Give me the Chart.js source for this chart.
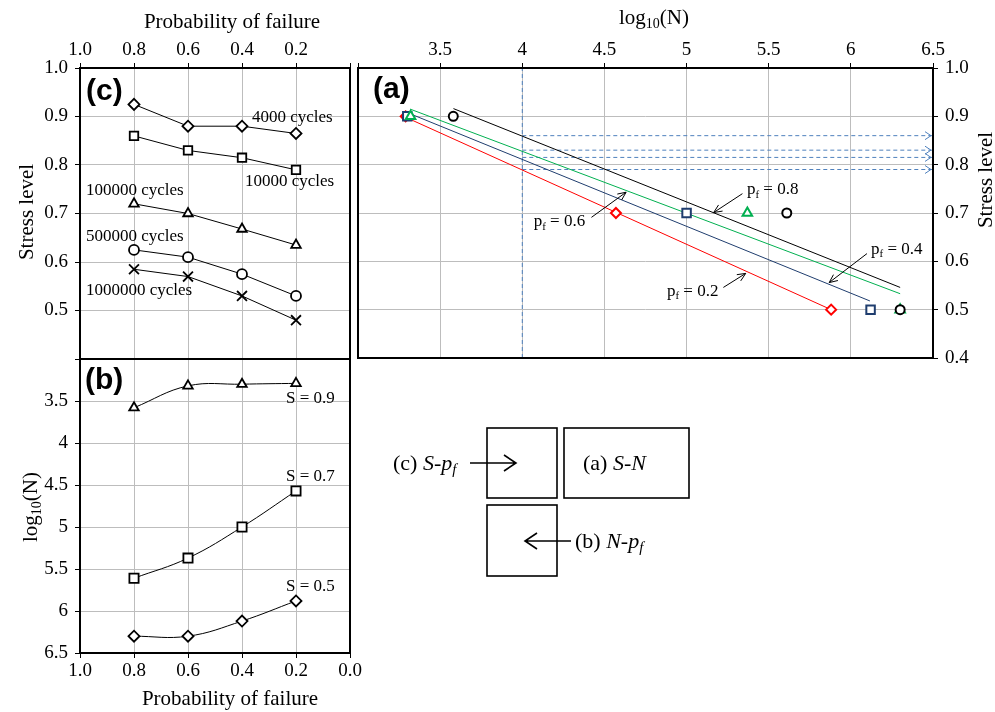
<!DOCTYPE html>
<html>
<head>
<meta charset="utf-8">
<title>S-N-pf diagrams</title>
<script src="https://cdn.jsdelivr.net/npm/chart.js@4.4.0/dist/chart.umd.min.js"></script>
<style>
  html, body { margin: 0; padding: 0; background: #fff; }
  #wrap { position: relative; width: 995px; height: 712px; overflow: hidden; }
  #wrap canvas, #wrap svg { position: absolute; left: 0; top: 0; }
</style>
</head>
<body>
<div id="wrap">
  <canvas id="chartC" width="995" height="712"></canvas>
  <canvas id="chartB" width="995" height="712"></canvas>
  <canvas id="chartA" width="995" height="712"></canvas>
  <!-- key showing how the three panels relate -->
  <svg id="key" width="995" height="712" font-family="'Liberation Serif', 'Times New Roman', serif" font-size="22">
    <g fill="none" stroke="#000" stroke-width="1.6">
      <rect x="487" y="428" width="70" height="70"/>
      <rect x="564" y="428" width="125" height="70"/>
      <rect x="487" y="505" width="70" height="71"/>
      <path d="M470 463 H516 M504 455 L516 463 L504 471"/>
      <path d="M571 541 H525 M537 533 L525 541 L537 549"/>
    </g>
    <text x="393" y="470">(c) <tspan font-style="italic">S</tspan>-<tspan font-style="italic">p</tspan><tspan font-style="italic" font-size="15" dy="4">f</tspan></text>
    <text x="583" y="470">(a) <tspan font-style="italic">S</tspan>-<tspan font-style="italic">N</tspan></text>
    <text x="575" y="548">(b) <tspan font-style="italic">N</tspan>-<tspan font-style="italic">p</tspan><tspan font-style="italic" font-size="15" dy="4">f</tspan></text>
  </svg>
</div>
<script>
// probability of failure levels used in (b) and (c)
const pfLevels = [0.8, 0.6, 0.4, 0.2];

// (c) stress level reached at a fixed number of cycles
const cycleNames = ['4000 cycles', '10000 cycles', '100000 cycles', '500000 cycles', '1000000 cycles'];
const stress4k = [0.925, 0.88, 0.88, 0.865];
const stress10k = [0.86, 0.83, 0.815, 0.79];
const stress100k = [0.72, 0.70, 0.668, 0.635];
const stress500k = [0.625, 0.61, 0.575, 0.53];
const stress1m = [0.585, 0.57, 0.53, 0.48];

// (b) log10(N) at a fixed stress level
const stressNames = ['S = 0.9', 'S = 0.7', 'S = 0.5'];
const logN09 = [3.58, 3.32, 3.30, 3.29];
const logN07 = [5.61, 5.37, 5.00, 4.57];
const logN05 = [6.30, 6.30, 6.12, 5.88];

// (a) the same lives plotted against the tested stress levels
const stressTested = [0.9, 0.7, 0.5];
const pfNames = ['p_{f} = 0.8', 'p_{f} = 0.6', 'p_{f} = 0.4', 'p_{f} = 0.2'];

// fitted S-N lines per pf, [log10(N), S] at both ends
const fit08 = [[3.581, 0.916], [6.30, 0.546]];
const fit06 = [[3.317, 0.915], [6.30, 0.533]];
const fit04 = [[3.305, 0.907], [6.116, 0.518]];
const fit02 = [[3.31, 0.895], [5.88, 0.5]];

// read-off at N = 10^4 (the 10000 cycles curve of (c))
const readLogN = 4;

// ticks and their labels
const pfTicks = [1.0, 0.8, 0.6, 0.4, 0.2, 0.0];
const pfTopLabels = ['1.0', '0.8', '0.6', '0.4', '0.2', ''];
const pfBottomLabels = ['1.0', '0.8', '0.6', '0.4', '0.2', '0.0'];
const stressTicks = [1.0, 0.9, 0.8, 0.7, 0.6, 0.5, 0.4];
const stressLeftLabels = ['1.0', '0.9', '0.8', '0.7', '0.6', '0.5', ''];
const stressRightLabels = ['1.0', '0.9', '0.8', '0.7', '0.6', '0.5', '0.4'];
const logNTicks = [3, 3.5, 4, 4.5, 5, 5.5, 6, 6.5];
const logNLabels = ['', '3.5', '4', '4.5', '5', '5.5', '6', '6.5'];

const serif = "'Liberation Serif', 'Times New Roman', serif";
const sans = "'Liberation Sans', Arial, sans-serif";
const gridGray = '#bdbdbd';
const dashBlue = '#4f81bd';

// split 'log_{10}(N)' into plain / subscript pieces
function pieces(str){
  const out = [];
  const re = /_\{([^}]*)\}/g;
  let last = 0, m;
  while ((m = re.exec(str))){
    if (m.index > last) out.push({ t: str.slice(last, m.index) });
    out.push({ t: m[1], sub: true });
    last = re.lastIndex;
  }
  if (last < str.length) out.push({ t: str.slice(last) });
  return out;
}

function drawText(ctx, str, x, y, o){
  const size = o.size || 17;
  const family = o.family || serif;
  const weight = o.bold ? 'bold ' : '';
  const parts = pieces(str);
  const fontOf = p => `${weight}${p.sub ? Math.round(size * 0.65) : size}px ${family}`;
  ctx.save();
  ctx.translate(x, y);
  if (o.rot) ctx.rotate(o.rot);
  let total = 0;
  parts.forEach(p => { ctx.font = fontOf(p); total += ctx.measureText(p.t).width; });
  let cx = o.align === 'center' ? -total / 2 : (o.align === 'right' ? -total : 0);
  ctx.fillStyle = '#000';
  ctx.textAlign = 'left';
  ctx.textBaseline = 'middle';
  parts.forEach(p => {
    ctx.font = fontOf(p);
    ctx.fillText(p.t, cx, p.sub ? size * 0.3 : 0);
    cx += ctx.measureText(p.t).width;
  });
  ctx.restore();
}

function arrowHead(ctx, x0, y0, x1, y1, len, spread){
  const a = Math.atan2(y1 - y0, x1 - x0);
  ctx.beginPath();
  ctx.moveTo(x1 - len * Math.cos(a - spread), y1 - len * Math.sin(a - spread));
  ctx.lineTo(x1, y1);
  ctx.lineTo(x1 - len * Math.cos(a + spread), y1 - len * Math.sin(a + spread));
  ctx.stroke();
}

// frame, labels, arrows and axis titles for one panel
function notes(items){
  return {
    id: 'notes',
    afterDatasetsDraw(chart){
      const ctx = chart.ctx;
      const { left, top, right, bottom } = chart.chartArea;
      const sx = chart.scales.x, sy = chart.scales.y;
      const px = v => sx.getPixelForValue(v), py = v => sy.getPixelForValue(v);

      // dashed read-off lines end in an open arrowhead
      chart.data.datasets.forEach((ds, i) => {
        if (!ds.arrowEnd) return;
        const pts = chart.getDatasetMeta(i).data;
        const p = pts[pts.length - 1];
        ctx.save();
        ctx.strokeStyle = ds.borderColor;
        ctx.lineWidth = 1;
        ctx.beginPath();
        ctx.moveTo(p.x - 8, p.y - 4);
        ctx.lineTo(p.x - 2, p.y);
        ctx.lineTo(p.x - 8, p.y + 4);
        ctx.stroke();
        ctx.restore();
      });

      ctx.save();
      ctx.strokeStyle = '#000';
      ctx.lineWidth = 2;
      ctx.strokeRect(left, top, right - left, bottom - top);
      ctx.restore();

      items.forEach(it => {
        if (it.kind === 'text'){
          drawText(ctx, it.text, px(it.at[0]), py(it.at[1]), it);
        } else if (it.kind === 'title'){
          drawText(ctx, it.text, it.px[0], it.px[1], it);
        } else if (it.kind === 'arrow'){
          const x0 = px(it.from[0]), y0 = py(it.from[1]);
          const x1 = px(it.to[0]), y1 = py(it.to[1]);
          ctx.save();
          ctx.strokeStyle = '#000';
          ctx.lineWidth = 1;
          ctx.beginPath();
          ctx.moveTo(x0, y0);
          ctx.lineTo(x1, y1);
          ctx.stroke();
          arrowHead(ctx, x0, y0, x1, y1, 9, 0.42);
          ctx.restore();
        }
      });
    }
  };
}

function axis(o){
  return {
    type: 'linear',
    position: o.position,
    min: o.min,
    max: o.max,
    reverse: !!o.reverse,
    afterBuildTicks: a => { a.ticks = o.values.map(v => ({ value: v })); },
    afterFit: a => { if (a.isHorizontal()) a.height = o.size; else a.width = o.size; },
    border: { display: false },
    grid: { color: gridGray, lineWidth: 1, tickColor: '#000', tickLength: 5 },
    ticks: {
      font: { family: serif, size: 19 },
      color: '#000',
      padding: o.pad,
      autoSkip: false,
      maxRotation: 0,
      minRotation: 0,
      callback: (v, i) => o.labels[i]
    }
  };
}

const common = {
  responsive: false,
  animation: false,
  devicePixelRatio: 1,
  events: [],
  plugins: { legend: { display: false }, tooltip: { enabled: false } }
};

/* (c) stress level vs probability of failure */
const cSeries = [stress4k, stress10k, stress100k, stress500k, stress1m];
const cMarkers = ['rectRot', 'rect', 'triangle', 'circle', 'crossRot'];
const cRadius = [5.5, 6, 5.5, 5, 7];
const cLabelAt = [[0.363, 0.897], [0.389, 0.766], [0.978, 0.748], [0.978, 0.652], [0.978, 0.542]];

new Chart(document.getElementById('chartC'), {
  type: 'scatter',
  data: {
    datasets: cSeries.map((vals, k) => ({
      label: cycleNames[k],
      data: pfLevels.map((p, i) => ({ x: p, y: vals[i] })),
      showLine: true,
      tension: 0,
      borderColor: '#000',
      borderWidth: 1,
      pointStyle: cMarkers[k],
      pointRadius: cRadius[k],
      pointBorderWidth: 1.8,
      pointBorderColor: '#000',
      pointBackgroundColor: '#fff'
    }))
  },
  options: {
    ...common,
    layout: { padding: { left: 0, top: 0, right: 645, bottom: 353 }, autoPadding: false },
    scales: {
      x: axis({ position: 'top', min: 0, max: 1, reverse: true, values: pfTicks, labels: pfTopLabels, size: 68, pad: 2 }),
      y: axis({ position: 'left', min: 0.4, max: 1.0, values: stressTicks, labels: stressLeftLabels, size: 80, pad: 7 })
    }
  },
  plugins: [notes([
    ...cycleNames.map((t, k) => ({ kind: 'text', text: t, at: cLabelAt[k], align: 'left', size: 17 })),
    { kind: 'title', text: '(c)', px: [86, 92], align: 'left', size: 30, family: sans, bold: true },
    { kind: 'title', text: 'Probability of failure', px: [232, 22], align: 'center', size: 21 },
    { kind: 'title', text: 'Stress level', px: [27, 212], align: 'center', size: 21, rot: -Math.PI / 2 }
  ])]
});

/* (b) log10(N) vs probability of failure */
const bSeries = [logN09, logN07, logN05];
const bMarkers = ['triangle', 'rect', 'rectRot'];
const bRadius = [5.5, 6.5, 5.5];
const bLabelAt = [[0.237, 3.468], [0.237, 4.40], [0.237, 5.71]];

new Chart(document.getElementById('chartB'), {
  type: 'scatter',
  data: {
    datasets: bSeries.map((vals, k) => ({
      label: stressNames[k],
      data: pfLevels.map((p, i) => ({ x: p, y: vals[i] })),
      showLine: true,
      tension: 0.4,
      borderColor: '#000',
      borderWidth: 1,
      pointStyle: bMarkers[k],
      pointRadius: bRadius[k],
      pointBorderWidth: 1.8,
      pointBorderColor: '#000',
      pointBackgroundColor: '#fff'
    }))
  },
  options: {
    ...common,
    layout: { padding: { left: 0, top: 359, right: 645, bottom: 0 }, autoPadding: false },
    scales: {
      x: axis({ position: 'bottom', min: 0, max: 1, reverse: true, values: pfTicks, labels: pfBottomLabels, size: 59, pad: 2 }),
      y: axis({ position: 'left', min: 3, max: 6.5, reverse: true, values: logNTicks, labels: logNLabels, size: 80, pad: 7 })
    }
  },
  plugins: [notes([
    ...stressNames.map((t, k) => ({ kind: 'text', text: t, at: bLabelAt[k], align: 'left', size: 17 })),
    { kind: 'title', text: '(b)', px: [85, 381], align: 'left', size: 30, family: sans, bold: true },
    { kind: 'title', text: 'Probability of failure', px: [230, 699], align: 'center', size: 21 },
    { kind: 'title', text: 'log_{10}(N)', px: [31, 507], align: 'center', size: 21, rot: -Math.PI / 2 }
  ])]
});

/* (a) S-N points and fitted lines for each pf */
const pfColors = ['#000000', '#00b050', '#1f3d6e', '#ff0000'];
const pfMarkers = ['circle', 'triangle', 'rect', 'rectRot'];
const pfRadius = [4.5, 5.5, 6, 5];
const fits = [fit08, fit06, fit04, fit02];
const livesByStress = [logN09, logN07, logN05];
const pfTextAt = [[5.524, 0.748], [4.226, 0.682], [6.28, 0.625], [5.037, 0.538]];
const pfArrows = [
  [[5.34, 0.740], [5.165, 0.701]],
  [[4.421, 0.691], [4.632, 0.743]],
  [[6.098, 0.616], [5.868, 0.556]],
  [[5.224, 0.546], [5.36, 0.575]]
];

const aPoints = pfLevels.map((p, i) => ({
  label: pfNames[i],
  data: stressTested.map((s, k) => ({ x: livesByStress[k][i], y: s })),
  showLine: false,
  pointStyle: pfMarkers[i],
  pointRadius: pfRadius[i],
  pointBorderWidth: 2,
  pointBorderColor: pfColors[i],
  pointBackgroundColor: '#fff'
}));

const aFits = fits.map((f, i) => ({
  data: f.map(([x, y]) => ({ x, y })),
  showLine: true,
  borderColor: pfColors[i],
  borderWidth: 1,
  pointRadius: 0
}));

const aReadOff = [
  {
    data: [{ x: readLogN, y: 0.4 }, { x: readLogN, y: 1.0 }],
    showLine: true, borderColor: dashBlue, borderWidth: 1, borderDash: [4, 3], pointRadius: 0
  },
  ...stress10k.map(v => ({
    data: [{ x: readLogN, y: v }, { x: 6.5, y: v }],
    showLine: true, borderColor: dashBlue, borderWidth: 1, borderDash: [4, 3], pointRadius: 0,
    arrowEnd: true
  }))
];

new Chart(document.getElementById('chartA'), {
  type: 'scatter',
  data: { datasets: [...aPoints, ...aFits, ...aReadOff] },
  options: {
    ...common,
    layout: { padding: { left: 358, top: 0, right: 0, bottom: 354 }, autoPadding: false },
    scales: {
      x: axis({ position: 'top', min: 3, max: 6.5, values: logNTicks, labels: logNLabels, size: 68, pad: 2 }),
      y: axis({ position: 'right', min: 0.4, max: 1.0, values: stressTicks, labels: stressRightLabels, size: 62, pad: 7 })
    }
  },
  plugins: [notes([
    ...pfNames.map((t, i) => ({ kind: 'text', text: t, at: pfTextAt[i], align: 'center', size: 17 })),
    ...pfArrows.map(a => ({ kind: 'arrow', from: a[0], to: a[1] })),
    { kind: 'title', text: '(a)', px: [373, 90], align: 'left', size: 30, family: sans, bold: true },
    { kind: 'title', text: 'log_{10}(N)', px: [654, 18], align: 'center', size: 21 },
    { kind: 'title', text: 'Stress level', px: [986, 180], align: 'center', size: 21, rot: -Math.PI / 2 }
  ])]
});
</script>
</body>
</html>
